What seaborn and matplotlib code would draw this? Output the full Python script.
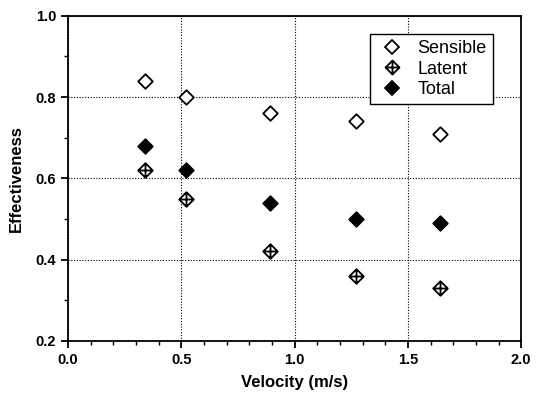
import matplotlib
matplotlib.use("Agg")
import matplotlib.pyplot as plt
import seaborn as sns
import numpy as np
import pandas as pd
from matplotlib.path import Path
from matplotlib.ticker import MultipleLocator
from matplotlib.lines import Line2D

velocity = [0.34, 0.52, 0.89, 1.27, 1.64]
sensible = [0.84, 0.80, 0.76, 0.74, 0.71]
latent = [0.62, 0.55, 0.42, 0.36, 0.33]
total = [0.68, 0.62, 0.54, 0.50, 0.49]
series_names = ["Sensible", "Latent", "Total"]

sns.set_theme(style="ticks")
plt.rcParams['font.family'] = ['Liberation Sans', 'DejaVu Sans']
plt.rcParams['text.color'] = 'black'
plt.rcParams['axes.labelcolor'] = 'black'
plt.rcParams['xtick.color'] = 'black'
plt.rcParams['ytick.color'] = 'black'

df = pd.DataFrame({
    "Velocity": velocity * 3,
    "Effectiveness": sensible + latent + total,
    "Series": [s for s in series_names for _ in velocity],
})

fig = plt.figure(figsize=(5.39, 3.95), dpi=100)
ax = fig.add_axes([0.126, 0.137, 0.841, 0.823])

diamond_cross = Path(
    [(0, 1), (1, 0), (0, -1), (-1, 0), (0, 1), (0, 1), (0, -1), (-1, 0), (1, 0)],
    [Path.MOVETO, Path.LINETO, Path.LINETO, Path.LINETO, Path.CLOSEPOLY,
     Path.MOVETO, Path.LINETO, Path.MOVETO, Path.LINETO])

styles = {
    "Sensible": dict(marker="D", facecolors="white", s=55),
    "Latent": dict(marker=diamond_cross, facecolors="white", s=110),
    "Total": dict(marker="D", facecolors="black", s=55),
}
for name in series_names:
    sub = df[df["Series"] == name]
    st = styles[name]
    sns.scatterplot(data=sub, x="Velocity", y="Effectiveness", ax=ax,
                    marker=st["marker"], s=st["s"], facecolor=st["facecolors"],
                    edgecolor="black", linewidth=1.3, zorder=3, legend=False)

ax.set_xlim(0, 2.0)
ax.set_ylim(0.2, 1.0)
ax.xaxis.set_major_locator(MultipleLocator(0.5))
ax.xaxis.set_minor_locator(MultipleLocator(0.1))
ax.yaxis.set_major_locator(MultipleLocator(0.2))
ax.yaxis.set_minor_locator(MultipleLocator(0.1))
ax.xaxis.set_major_formatter(matplotlib.ticker.FormatStrFormatter("%.1f"))
ax.yaxis.set_major_formatter(matplotlib.ticker.FormatStrFormatter("%.1f"))
ax.grid(True, which="major", linestyle=(0, (1, 1.5)), color="black", linewidth=0.8)
ax.tick_params(which="major", direction="out", length=5, width=1.3, labelsize=10.5,
               color="black", labelcolor="black")
ax.tick_params(which="minor", direction="out", length=3, width=1.0, color="black")
for lab in ax.get_xticklabels() + ax.get_yticklabels():
    lab.set_fontweight("bold")
for sp in ax.spines.values():
    sp.set_visible(True)
    sp.set_color("black")
    sp.set_linewidth(1.3)
ax.set_xlabel("Velocity (m/s)", fontsize=12, fontweight="bold", labelpad=6, color="black")
ax.set_ylabel("Effectiveness", fontsize=12, fontweight="bold", labelpad=8, color="black")

handles = [
    Line2D([], [], linestyle="none", marker="D", markersize=7, markerfacecolor="white", markeredgecolor="black", markeredgewidth=1.3),
    Line2D([], [], linestyle="none", marker=diamond_cross, markersize=10, markerfacecolor="white", markeredgecolor="black", markeredgewidth=1.3),
    Line2D([], [], linestyle="none", marker="D", markersize=7, markerfacecolor="black", markeredgecolor="black", markeredgewidth=1.3),
]
leg = ax.legend(handles, series_names, loc="upper right", bbox_to_anchor=(0.958, 0.973),
                frameon=True, fancybox=False, edgecolor="black", framealpha=1,
                fontsize=13, handletextpad=0.5, borderpad=0.35, labelspacing=0.2,
                handlelength=1.8)
leg.get_frame().set_linewidth(1.0)

fig.savefig("out.png", dpi=100)
